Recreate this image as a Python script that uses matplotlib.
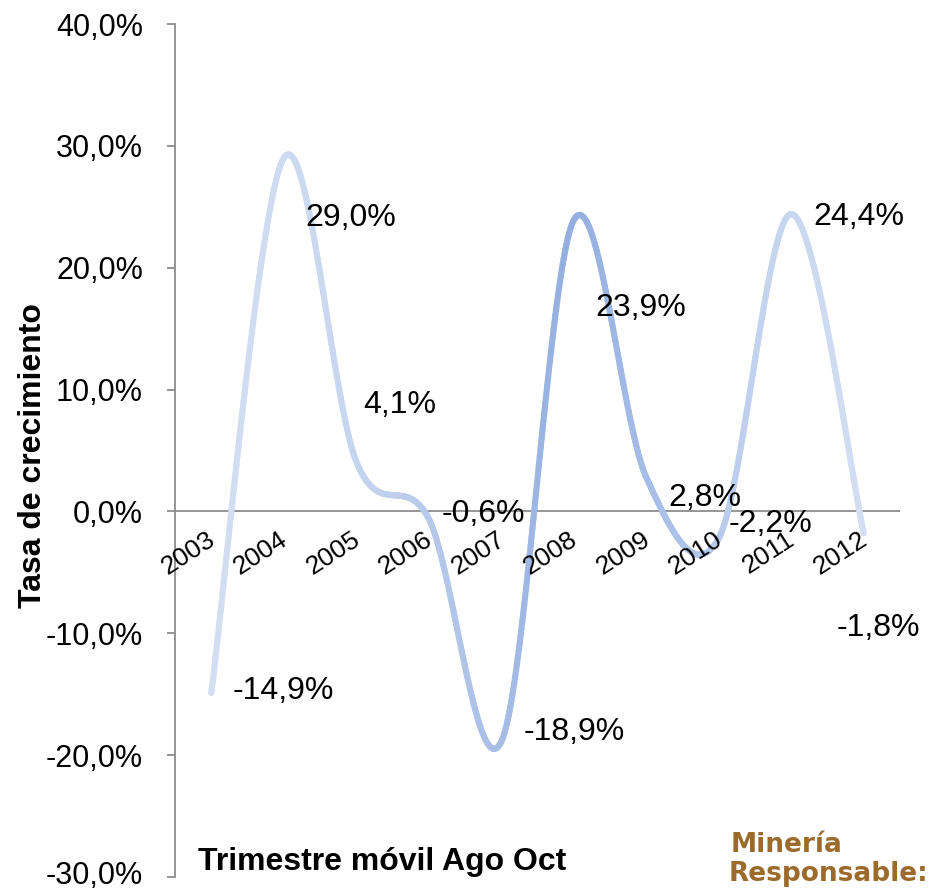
import numpy as np
import matplotlib
matplotlib.use("Agg")
import matplotlib.pyplot as plt
import matplotlib.transforms as mtransforms
from matplotlib.collections import LineCollection
from matplotlib.colors import LinearSegmentedColormap

plt.rcParams['font.family'] = ['Liberation Sans', 'DejaVu Sans']

years = ['2003', '2004', '2005', '2006', '2007', '2008', '2009', '2010', '2011', '2012']
growth = [-14.9, 29.0, 4.1, -0.6, -18.9, 23.9, 2.8, -2.2, 24.4, -1.8]
label_texts = ['-14,9%', '29,0%', '4,1%', '-0,6%', '-18,9%', '23,9%', '2,8%', '-2,2%', '24,4%', '-1,8%']
yticks = [40, 30, 20, 10, 0, -10, -20, -30]

# label offsets (pixels) for data labels
lbl_dx = [72, 67, 44, 55, 73, 67, 59, 52, 68, 15]
lbl_dy = [2, -60, 56, 5, 10, -88, -21, 14, -3, -95]

W, H = 934, 892
fig = plt.figure(figsize=(W / 100, H / 100), dpi=100)
ax = fig.add_axes([175 / W, 1 - 877 / H, (900 - 175) / W, (877 - 24) / H])

n = len(growth)
xs = np.arange(n, dtype=float)
ys = np.array(growth, dtype=float)

# Excel-like smoothing (Catmull-Rom via cubic Bezier)
px, py = [], []
for i in range(n - 1):
    p0 = np.array([xs[max(i - 1, 0)], ys[max(i - 1, 0)]])
    p1 = np.array([xs[i], ys[i]])
    p2 = np.array([xs[i + 1], ys[i + 1]])
    p3 = np.array([xs[min(i + 2, n - 1)], ys[min(i + 2, n - 1)]])
    c1 = p1 + (p2 - p0) / 6
    c2 = p2 - (p3 - p1) / 6
    t = np.linspace(0, 1, 80)[:, None]
    seg = ((1 - t) ** 3) * p1 + 3 * ((1 - t) ** 2) * t * c1 + 3 * (1 - t) * t ** 2 * c2 + t ** 3 * p2
    px.extend(seg[:, 0]); py.extend(seg[:, 1])
px = np.array(px); py = np.array(py)

pts = np.column_stack([px, py]).reshape(-1, 1, 2)
segs = np.concatenate([pts[:-1], pts[1:]], axis=1)
cmap = LinearSegmentedColormap.from_list('g', [
    (0.0, '#d3def2'), (0.2, '#c8d7f0'), (0.4, '#aec3e8'), (0.55, '#93afe0'),
    (0.7, '#aac0e8'), (0.85, '#c4d4ef'), (1.0, '#d3def2')])
mids = (px[:-1] + px[1:]) / 2 / (n - 1)
lc = LineCollection(segs, colors=cmap(mids), linewidths=4.4, capstyle='round', joinstyle='round')
ax.add_collection(lc)

ax.set_xlim(-0.5, n - 0.5)
ax.set_ylim(-30, 40)

for i in range(n):
    ax.annotate(label_texts[i], (xs[i], ys[i]), xytext=(lbl_dx[i], lbl_dy[i]),
                textcoords='offset pixels', ha='center', va='center', fontsize=23, color='black')

# spines
for s in ['top', 'right', 'bottom']:
    ax.spines[s].set_visible(False)
ax.spines['left'].set_color('#8c8c8c')
ax.spines['left'].set_linewidth(1.3)
ax.axhline(0, color='#8c8c8c', lw=1.3, zorder=0)

ax.set_yticks(yticks)
ax.set_yticklabels([f"{v:.1f}%".replace('.', ',') for v in yticks], fontsize=22)
ax.tick_params(axis='y', length=6, width=1.3, color='#8c8c8c', pad=17)
ax.set_xticks([])

# keep the bottom tick label inside the canvas
bottom_lbl = ax.get_yticklabels()[-1]
bottom_lbl.set_transform(bottom_lbl.get_transform() +
                         mtransforms.ScaledTranslation(0, 4 / 100, fig.dpi_scale_trans))

# x category labels near zero line
for i, yr in enumerate(years):
    ax.annotate(yr, (xs[i], 0), xytext=(-5, -16), textcoords='offset pixels',
                rotation=33, rotation_mode='anchor', ha='right', va='top', fontsize=19)

ax.set_ylabel('Tasa de crecimiento', fontsize=23, fontweight='bold')
ax.yaxis.set_label_coords((33 - 175) / (900 - 175), (877 - 456) / (877 - 24))
ax.yaxis.label.set_va('center')

fig.text(382 / W, 1 - 862 / H, 'Trimestre móvil Ago Oct', ha='center', va='center',
         fontsize=23, fontweight='bold')

fig.text(731 / W, 1 - 852 / H, 'Minería', ha='left', va='baseline', fontsize=19,
         family='DejaVu Sans', fontweight='bold', color='#9c6b2c')
fig.text(729 / W, 1 - 881 / H, 'Responsable:', ha='left', va='baseline', fontsize=19,
         family='DejaVu Sans', fontweight='bold', color='#9c6b2c')

fig.savefig('out.png', dpi=100)
